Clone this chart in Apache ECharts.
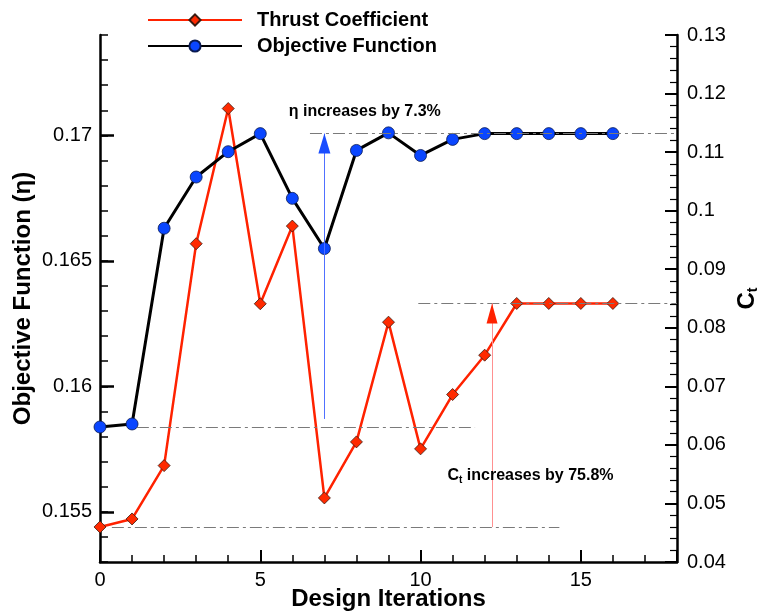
<!DOCTYPE html>
<html><head><meta charset="utf-8">
<script src="https://cdn.jsdelivr.net/npm/echarts@6/dist/echarts.min.js"></script>
<style>html,body{margin:0;padding:0;background:#fff}#c{width:767px;height:613px}</style>
</head><body><div id="c"></div>
<script>
// ---- data ----
const iterations = [0,1,2,3,4,5,6,7,8,9,10,11,12,13,14,15,16];
const objective = [0.15838,0.1585,0.1663,0.16834,0.16935,0.17007,0.16749,0.16549,0.1694,0.1701,0.1692,0.16984,0.17007,0.17007,0.17007,0.17007,0.17007];
const thrust = [0.04598,0.04735,0.05646,0.09436,0.11744,0.0841,0.09737,0.05094,0.06051,0.08096,0.05932,0.0686,0.07532,0.08415,0.08415,0.08415,0.08415];
const xTickLabels = [0,5,10,15];
const leftTickLabels = [0.155,0.16,0.165,0.17];
const seriesNames = ['Thrust Coefficient','Objective Function'];
const etaNote = 'η increases by 7.3%';
const ctNote = ' increases by 75.8%';

const FONT = 'Liberation Sans';
const eta0 = objective[0], etaF = objective[objective.length-1];
const ct0 = thrust[0], ctF = thrust[thrust.length-1];
const dashDot = {color:'#7a7a7a', width:1, type:[12,4,3,4]};

const chart = echarts.init(document.getElementById('c'), null, {renderer:'canvas'});
chart.setOption({
  animation:false,
  backgroundColor:'#fff',
  textStyle:{fontFamily:FONT},
  grid:{left:100, right:90, top:35, bottom:51, containLabel:false, outerBoundsMode:'none'},
  legend:{
    data:seriesNames, orient:'vertical', left:142, top:5, itemWidth:94, itemHeight:14, itemGap:6,
    textStyle:{fontFamily:FONT, fontSize:20, fontWeight:'bold', color:'#000', padding:[0,0,0,10]}
  },
  xAxis:[{
    type:'value', min:0, max:18, interval:1,
    name:'Design Iterations', nameLocation:'middle', nameGap:25, nameMoveOverlap:false,
    nameTextStyle:{fontFamily:FONT, fontSize:24, fontWeight:'bold', color:'#000'},
    axisLine:{show:true, onZero:false, lineStyle:{color:'#000', width:2.5}},
    axisTick:{show:true, inside:true, length:7, lineStyle:{color:'#000', width:1.5}},
    axisLabel:{fontFamily:FONT, fontSize:20, color:'#000', margin:8,
      formatter:v=> xTickLabels.indexOf(Math.round(v))>=0 && Math.abs(v-Math.round(v))<1e-6 ? String(Math.round(v)) : ''},
    splitLine:{show:false}
  },{
    type:'value', min:0, max:18, interval:5, position:'bottom',
    axisLine:{show:false, onZero:false}, axisLabel:{show:false}, splitLine:{show:false},
    axisTick:{show:true, inside:true, length:12, lineStyle:{color:'#000', width:2}}
  }],
  yAxis:[{
    type:'value', position:'left', min:0.153, max:0.174, interval:0.001,
    name:'Objective Function (η)', nameLocation:'middle', nameGap:65, nameRotate:90, nameMoveOverlap:false,
    nameTextStyle:{fontFamily:FONT, fontSize:24, fontWeight:'bold', color:'#000'},
    axisLine:{show:true, onZero:false, lineStyle:{color:'#000', width:2.5}},
    axisTick:{show:true, inside:true, length:8, lineStyle:{color:'#000', width:1.5}},
    axisLabel:{fontFamily:FONT, fontSize:20, color:'#000', margin:8,
      formatter:v=>{ for (const t of leftTickLabels){ if (Math.abs(v-t)<1e-7) return String(t);} return ''; }},
    splitLine:{show:false}
  },{
    type:'value', position:'right', min:0.04, max:0.13, interval:0.01,
    name:'{c|C}{t|t}', nameLocation:'middle', nameGap:57, nameRotate:90, nameMoveOverlap:false,
    nameTextStyle:{rich:{
      c:{fontFamily:FONT, fontSize:24, fontWeight:'bold', color:'#000', lineHeight:26},
      t:{fontFamily:FONT, fontSize:14, fontWeight:'bold', color:'#000', lineHeight:8, verticalAlign:'bottom'}
    }},
    axisLine:{show:true, onZero:false, lineStyle:{color:'#000', width:2.5}},
    axisTick:{show:true, inside:true, length:12, lineStyle:{color:'#000', width:2}},
    minorTick:{show:true, splitNumber:5, length:7, lineStyle:{color:'#000', width:1.2}},
    axisLabel:{fontFamily:FONT, fontSize:20, color:'#000', margin:10},
    splitLine:{show:false}
  },{
    type:'value', position:'left', min:0.153, max:0.174,
    axisLine:{show:false, onZero:false}, axisLabel:{show:false}, splitLine:{show:false},
    axisTick:{show:true, inside:true, length:14, customValues:leftTickLabels, lineStyle:{color:'#000', width:2.5}}
  }],
  series:[{
    name:seriesNames[0], type:'line', yAxisIndex:1, xAxisIndex:0,
    data:iterations.map((x,i)=>[x, thrust[i]]),
    symbol:'diamond', symbolSize:12,
    lineStyle:{color:'#ff2200', width:2.5},
    itemStyle:{color:'#ff2a00', borderColor:'#3a1a10', borderWidth:0.8},
    z:3,
    markLine:{silent:true, symbol:['none','none'], label:{show:false},
      data:[
        [{coord:[0.37, ct0], lineStyle:dashDot},{coord:[14.33, ct0]}],
        [{coord:[9.93, ctF], lineStyle:dashDot},{coord:[18, ctF]}],
        [{coord:[12.23, ct0], lineStyle:{color:'#ff9090', width:1, type:'solid'}},{coord:[12.23, ctF]}]
      ]},
    markPoint:{silent:true, data:[
      {coord:[12.23, ctF], symbol:'triangle', symbolSize:[11,20], symbolOffset:[0,'50%'], itemStyle:{color:'#ff2200'}, label:{show:false}},
      {coord:[13.43, 0.0548], symbol:'circle', symbolSize:0,
        label:{show:true, position:'inside', formatter:'{c|C}{t|t}{r|'+ctNote+'}',
          rich:{
            c:{fontFamily:FONT, fontSize:16, fontWeight:'bold', color:'#000', lineHeight:20},
            t:{fontFamily:FONT, fontSize:10, fontWeight:'bold', color:'#000', lineHeight:7, verticalAlign:'bottom'},
            r:{fontFamily:FONT, fontSize:16, fontWeight:'bold', color:'#000', lineHeight:20}
          }}}
    ]}
  },{
    name:seriesNames[1], type:'line', yAxisIndex:0, xAxisIndex:0,
    data:iterations.map((x,i)=>[x, objective[i]]),
    symbol:'circle', symbolSize:12,
    lineStyle:{color:'#000', width:3},
    itemStyle:{color:'#0a46ff', borderColor:'#0a1a50', borderWidth:0.8},
    z:4,
    markLine:{silent:true, symbol:['none','none'], label:{show:false},
      data:[
        [{coord:[6.55, etaF], lineStyle:dashDot},{coord:[18, etaF]}],
        [{coord:[1.15, eta0], lineStyle:dashDot},{coord:[11.7, eta0]}],
        [{coord:[7, 0.1587], lineStyle:{color:'#5070ff', width:1, type:'solid'}},{coord:[7, etaF]}]
      ]},
    markPoint:{silent:true, data:[
      {coord:[7, etaF], symbol:'triangle', symbolSize:[12,20], symbolOffset:[0,'50%'], itemStyle:{color:'#1a4dff'}, label:{show:false}},
      {coord:[8.26, 0.17096], symbol:'circle', symbolSize:0,
        label:{show:true, position:'inside', formatter:etaNote, fontFamily:FONT, fontSize:16, fontWeight:'bold', color:'#000'}}
    ]}
  }]
});
</script></body></html>
